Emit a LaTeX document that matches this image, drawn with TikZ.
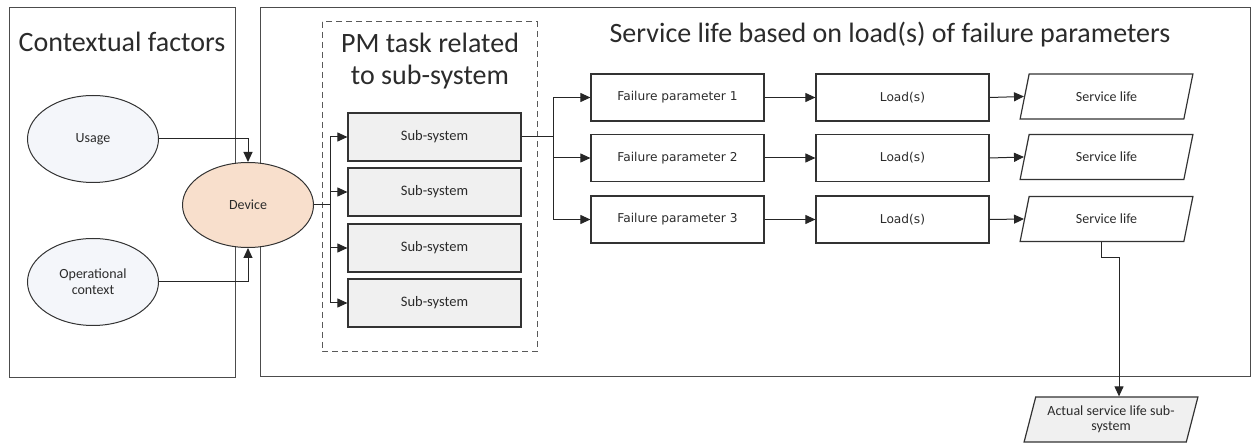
\documentclass[tikz,border=0pt]{standalone}
\usepackage{fontspec}
\setmainfont{Carlito}
\newfontfamily\smallsans{DejaVu Sans}
\usetikzlibrary{arrows.meta,shapes.geometric}
\definecolor{devfill}{HTML}{F8DFCC}
\definecolor{ctxfill}{HTML}{F4F6FA}
\definecolor{boxfill}{HTML}{F0F0F0}
\definecolor{ink}{HTML}{2B2B2B}
\begin{document}
\begin{tikzpicture}[x=1pt,y=-1pt,
  panel/.style={draw=black!70,line width=1pt},
  groupbox/.style={draw=black!65,line width=1pt,dash pattern=on 6pt off 4pt},
  txt/.style={text=ink,font=\fontsize{14}{17}\selectfont},
  heading/.style={text=ink,font=\fontsize{28}{32}\selectfont,anchor=base},
  box/.style={txt,draw=black!80,line width=1.2pt,minimum width=173pt,minimum height=47pt,inner sep=0pt},
  subbox/.style={box,fill=boxfill,minimum height=48pt,font=\fontsize{14.5}{17}\selectfont},
  fpbox/.style={box,font=\smallsans\fontsize{12.2}{14}\selectfont},
  slbox/.style={txt,trapezium,trapezium left angle=70,trapezium right angle=110,
    trapezium stretches=true,draw=black!80,line width=1.2pt,
    minimum width=173pt,minimum height=45pt,inner sep=0pt,align=center},
  ell/.style={txt,ellipse,draw=black!80,line width=1pt,minimum width=131pt,
    minimum height=87pt,inner sep=0pt,align=center},
  arr/.style={-{Triangle[length=10pt,width=9pt]},line width=1pt,draw=black!85},
  link/.style={line width=1pt,draw=black!85}
]
\useasboundingbox (0,0) rectangle (1251,443);

% panels and group frame
\draw[panel] (9,8) rectangle (235,378);
\draw[panel] (260,8) rectangle (1250,377);
\draw[groupbox] (322,22) rectangle (537,352);

% headings
\node[heading] (hctx) at (122,52) {Contextual factors};
\node[heading] (hpm1) at (430,53) {PM task related};
\node[heading] (hpm2) at (430,85) {to sub-system};
\node[heading] (hsl) at (890,43) {Service life based on load(s) of failure parameters};

% contextual factors and device
\node[ell,fill=ctxfill] (use) at (93,139) {Usage};
\node[ell,fill=ctxfill] (ops) at (93,282) {Operational\\[-1pt]context};
\node[ell,fill=devfill,minimum height=85pt] (dev) at (248,205) {Device};

% sub-systems
\node[subbox] (s1) at (434.5,137) {Sub-system};
\node[subbox] (s2) at (434.5,192) {Sub-system};
\node[subbox] (s3) at (434.5,248) {Sub-system};
\node[subbox] (s4) at (434.5,303) {Sub-system};

% failure parameters, loads, service lives
\node[fpbox] (fp1) at (677.5,97.5) {Failure parameter 1};
\node[fpbox] (fp2) at (677.5,158) {Failure parameter 2};
\node[fpbox] (fp3) at (677.5,219.5) {Failure parameter 3};
\node[fpbox] (ld1) at (902.5,97.5) {Load(s)};
\node[fpbox] (ld2) at (902.5,158) {Load(s)};
\node[fpbox] (ld3) at (902.5,219.5) {Load(s)};
\node[slbox] (sl1) at (1106.5,96.5) {Service life};
\node[slbox] (sl2) at (1106.5,157) {Service life};
\node[slbox] (sl3) at (1106.5,219) {Service life};
\node[slbox,fill=boxfill,minimum width=174pt] (act) at (1111,419.5)
  {Actual service life sub-\\[-2pt]system};

% context into device
\draw[arr] (use.east) -| (dev.north);
\draw[arr] (ops.east) -| (dev.south);

% device to sub-systems
\coordinate (brA) at ([xshift=16pt]dev.east);
\draw[link] (dev.east) -- (brA);
\foreach \s in {s1,s2,s3,s4} \draw[arr] (brA) |- (\s.west);

% sub-system to failure parameters
\coordinate (brB) at ([xshift=32pt]s1.east);
\draw[link] (s1.east) -- (brB);
\foreach \f in {fp1,fp2,fp3} \draw[arr] (brB) |- (\f.west);

% parameter -> load -> service life
\foreach \i in {1,2,3} {
  \draw[arr] (fp\i.east) -- (ld\i.west);
  \draw[arr] (ld\i.east) -- (sl\i.left side);
}

% service life to actual service life
\draw[arr] (sl3.bottom side) -- ++(0,15) -| ([xshift=8pt]act.north);
\end{tikzpicture}
\end{document}
